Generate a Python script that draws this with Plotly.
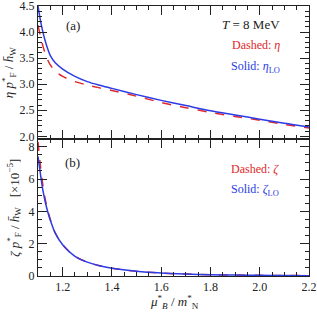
import plotly.graph_objects as go

# ---- data ----
x_vals = [1.10, 1.11, 1.12, 1.13, 1.14, 1.15, 1.17, 1.20, 1.25, 1.30, 1.35, 1.40,
          1.50, 1.60, 1.70, 1.80, 1.90, 2.00, 2.10, 2.20]

eta_LO = [4.50, 4.22, 4.00, 3.82, 3.67, 3.55, 3.41, 3.29, 3.15, 3.05, 2.98, 2.92,
          2.80, 2.69, 2.59, 2.49, 2.41, 2.33, 2.25, 2.18]
eta = [4.13, 3.92, 3.73, 3.58, 3.46, 3.37, 3.25, 3.15, 3.05, 2.985, 2.93, 2.88,
       2.77, 2.65, 2.55, 2.46, 2.38, 2.31, 2.23, 2.16]

zeta_LO = [7.40, 6.30, 5.30, 4.55, 3.95, 3.45, 2.65, 1.93, 1.22, 0.86, 0.63, 0.48,
           0.29, 0.18, 0.12, 0.08, 0.06, 0.04, 0.03, 0.02]
zeta = [8.30, 6.80, 5.60, 4.70, 4.05, 3.50, 2.66, 1.93, 1.22, 0.86, 0.63, 0.48,
        0.29, 0.18, 0.12, 0.08, 0.06, 0.04, 0.03, 0.02]

RED = "#e0282a"
BLUE = "#2b3be6"
FONT = "Liberation Serif, Times New Roman, serif"
AX = "#222222"

fig = go.Figure()
fig.add_trace(go.Scatter(x=x_vals, y=eta, xaxis="x2", yaxis="y2", mode="lines",
                         line=dict(color=RED, width=1.5, dash="dash", shape="spline", smoothing=0.8)))
fig.add_trace(go.Scatter(x=x_vals, y=eta_LO, xaxis="x2", yaxis="y2", mode="lines",
                         line=dict(color=BLUE, width=1.5, shape="spline", smoothing=0.8)))
fig.add_trace(go.Scatter(x=x_vals, y=zeta, xaxis="x", yaxis="y", mode="lines",
                         line=dict(color=RED, width=1.5, dash="dash", shape="spline", smoothing=0.8)))
fig.add_trace(go.Scatter(x=x_vals, y=zeta_LO, xaxis="x", yaxis="y", mode="lines",
                         line=dict(color=BLUE, width=1.5, shape="spline", smoothing=0.8)))

common_axis = dict(showline=True, linecolor=AX, linewidth=1, mirror="ticks",
                   ticks="inside", ticklen=9, tickwidth=1, tickcolor=AX,
                   showgrid=False, zeroline=False, automargin=False,
                   ticklabeloverflow="allow",
                   tickfont=dict(family=FONT, size=12, color="#222"))

SPLIT = 0.5056

fig.update_layout(
    width=317, height=312,
    margin=dict(l=38, r=8, t=6, b=36),
    paper_bgcolor="white", plot_bgcolor="white",
    showlegend=False,
    font=dict(family=FONT, color="#222"),
    xaxis=dict(common_axis, range=[1.1, 2.2], dtick=0.2, tick0=1.2, anchor="y",
               tickformat=".1f",
               minor=dict(dtick=0.05, ticks="inside", ticklen=4, tickcolor=AX)),
    xaxis2=dict(common_axis, range=[1.1, 2.2], dtick=0.2, tick0=1.2, anchor="y2",
                matches="x", showticklabels=False,
                minor=dict(dtick=0.05, ticks="inside", ticklen=4, tickcolor=AX)),
    yaxis=dict(common_axis, range=[0, 8.45], dtick=2, domain=[0, SPLIT], anchor="x",
               minor=dict(dtick=0.5, ticks="inside", ticklen=4, tickcolor=AX),
               title=dict(text="<i>ζ</i> <i>p</i><sup>*</sup><sub>F</sub> / <i>h̄</i><sub>W</sub>"
                               "   [×10<sup>−5</sup>]",
                          font=dict(family=FONT, size=13, color="#222"), standoff=6)),
    yaxis2=dict(common_axis, range=[1.94, 4.5], dtick=0.5, domain=[SPLIT, 1], anchor="x2",
                tickformat=".1f",
                minor=dict(dtick=0.1, ticks="inside", ticklen=4, tickcolor=AX),
                title=dict(text="<i>η</i> <i>p</i><sup>*</sup><sub>F</sub> / <i>h̄</i><sub>W</sub>",
                           font=dict(family=FONT, size=13, color="#222"), standoff=6)),
)

ann = [
    dict(text="(a)", x=0.129, y=0.926, xanchor="center", color="#222", size=13),
    dict(text="<i>T</i> = 8 MeV", x=0.90, y=0.93, xanchor="right", color="#222", size=13),
    dict(text="Dashed: <i>η</i>", x=0.90, y=0.856, xanchor="right", color=RED, size=12),
    dict(text="Solid: <i>η</i><sub>LO</sub>", x=0.90, y=0.774, xanchor="right", color=BLUE, size=12),
    dict(text="(b)", x=0.129, y=0.419, xanchor="center", color="#222", size=13),
    dict(text="Dashed: <i>ζ</i>", x=0.895, y=0.396, xanchor="right", color=RED, size=12),
    dict(text="Solid: <i>ζ</i><sub>LO</sub>", x=0.895, y=0.319, xanchor="right", color=BLUE, size=12),
    dict(text="<i>μ</i><sup>*</sup><sub><i>B</i></sub> / <i>m</i><sup>*</sup><sub>N</sub>",
         x=0.505, y=-0.097, xanchor="center", color="#222", size=13),
]
for a in ann:
    fig.add_annotation(text=a["text"], x=a["x"], y=a["y"], xref="paper", yref="paper",
                       xanchor=a["xanchor"], yanchor="middle", showarrow=False,
                       font=dict(family=FONT, size=a["size"], color=a["color"]))

fig.write_html("out.html", config={"displayModeBar": False},
               post_script="document.body.style.margin='0';document.body.style.padding='0';")
